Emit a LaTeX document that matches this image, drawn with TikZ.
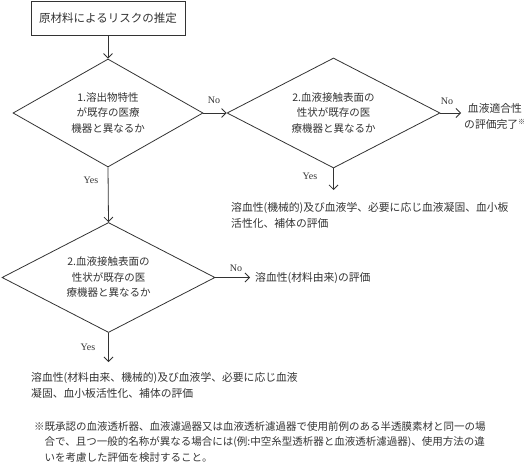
\documentclass[tikz,border=0pt]{standalone}
\usepackage{fontspec}
\setmainfont{Liberation Serif}
\newfontfamily\jp{Noto Sans CJK JP}
\usetikzlibrary{shapes.geometric,arrows.meta}
\definecolor{ink}{HTML}{333333}
\tikzset{
  every node/.style={text=ink, inner sep=0pt},
  jptext/.style={font=\jp\fontsize{10.5pt}{15.5pt}\selectfont},
  stepbox/.style={draw=ink, line width=0.8pt, jptext, font=\jp\fontsize{11.5pt}{14pt}\selectfont},
  dia/.style={diamond, draw=ink, line width=0.8pt, jptext, align=center, inner sep=0pt, aspect=2},
  arr/.style={draw=ink, line width=0.8pt, -{Straight Barb[length=4.5pt,width=9pt]}},
  lab/.style={font=\fontsize{10pt}{12pt}\selectfont},
  side/.style={jptext, align=left, anchor=west, font=\jp\fontsize{10.8pt}{16pt}\selectfont}
}
\begin{document}
\begin{tikzpicture}[x=1pt,y=-1pt]
\useasboundingbox (0,0) rectangle (529,473);
% nodes
\node[stepbox, minimum width=154pt, minimum height=34pt] (start) at (108,18) {原材料によるリスクの推定};
\node[dia, minimum width=190pt, minimum height=108pt] (d1) at (108,113) {1.溶出物特性\\が既存の医療\\機器と異なるか};
\node[dia, minimum width=213pt, minimum height=110pt] (d2) at (333.5,113) {2.血液接触表面の\\性状が既存の医\\療機器と異なるか};
\node[dia, minimum width=213pt, minimum height=110pt] (d3) at (108.5,277.5) {2.血液接触表面の\\性状が既存の医\\療機器と異なるか};
\node[side, align=center] (ok) at (464,116) {血液適合性\\の評価完了\textsuperscript{\fontsize{7pt}{8pt}\selectfont ※}};
\node[side] (t1) at (231,215) {溶血性(機械的)及び血液学、必要に応じ血液凝固、血小板\\活性化、補体の評価};
\node[side] (t2) at (255,278) {溶血性(材料由来)の評価};
\node[side] (t3) at (31,385) {溶血性(材料由来、機械的)及び血液学、必要に応じ血液\\凝固、血小板活性化、補体の評価};
\node[jptext, align=left, anchor=north west] (note) at (34,421) {※既承認の血液透析器、血液濾過器又は血液透析濾過器で使用前例のある半透膜素材と同一の場\\\hspace*{10.5pt}合で、且つ一般的名称が異なる場合には(例:中空糸型透析器と血液透析濾過器)、使用方法の違\\\hspace*{10.5pt}いを考慮した評価を検討すること。};
% free ends
\coordinate (e2) at (461,113);
\coordinate (e1) at (333.5,190);
\coordinate (e3) at (250,277.5);
\coordinate (e4) at (108.5,362);
% connectors
\draw[arr] (start) -- (d1);
\draw[arr] (d1.east) -- (d2.west);
\draw[arr] (d2.east) -- (e2);
\draw[arr] (d2.south) -- (e1);
\draw[arr] (d1.south) -- (d3.north);
\draw[arr] (d3.east) -- (e3);
\draw[arr] (d3.south) -- (e4);
% labels
\node[lab] (no1) at (214,100) {No};
\node[lab] (no2) at (447,101) {No};
\node[lab] (yes1) at (310,176) {Yes};
\node[lab] (yes2) at (91,180) {Yes};
\node[lab] (no3) at (236,268) {No};
\node[lab] (yes3) at (88,347) {Yes};
\end{tikzpicture}
\end{document}
